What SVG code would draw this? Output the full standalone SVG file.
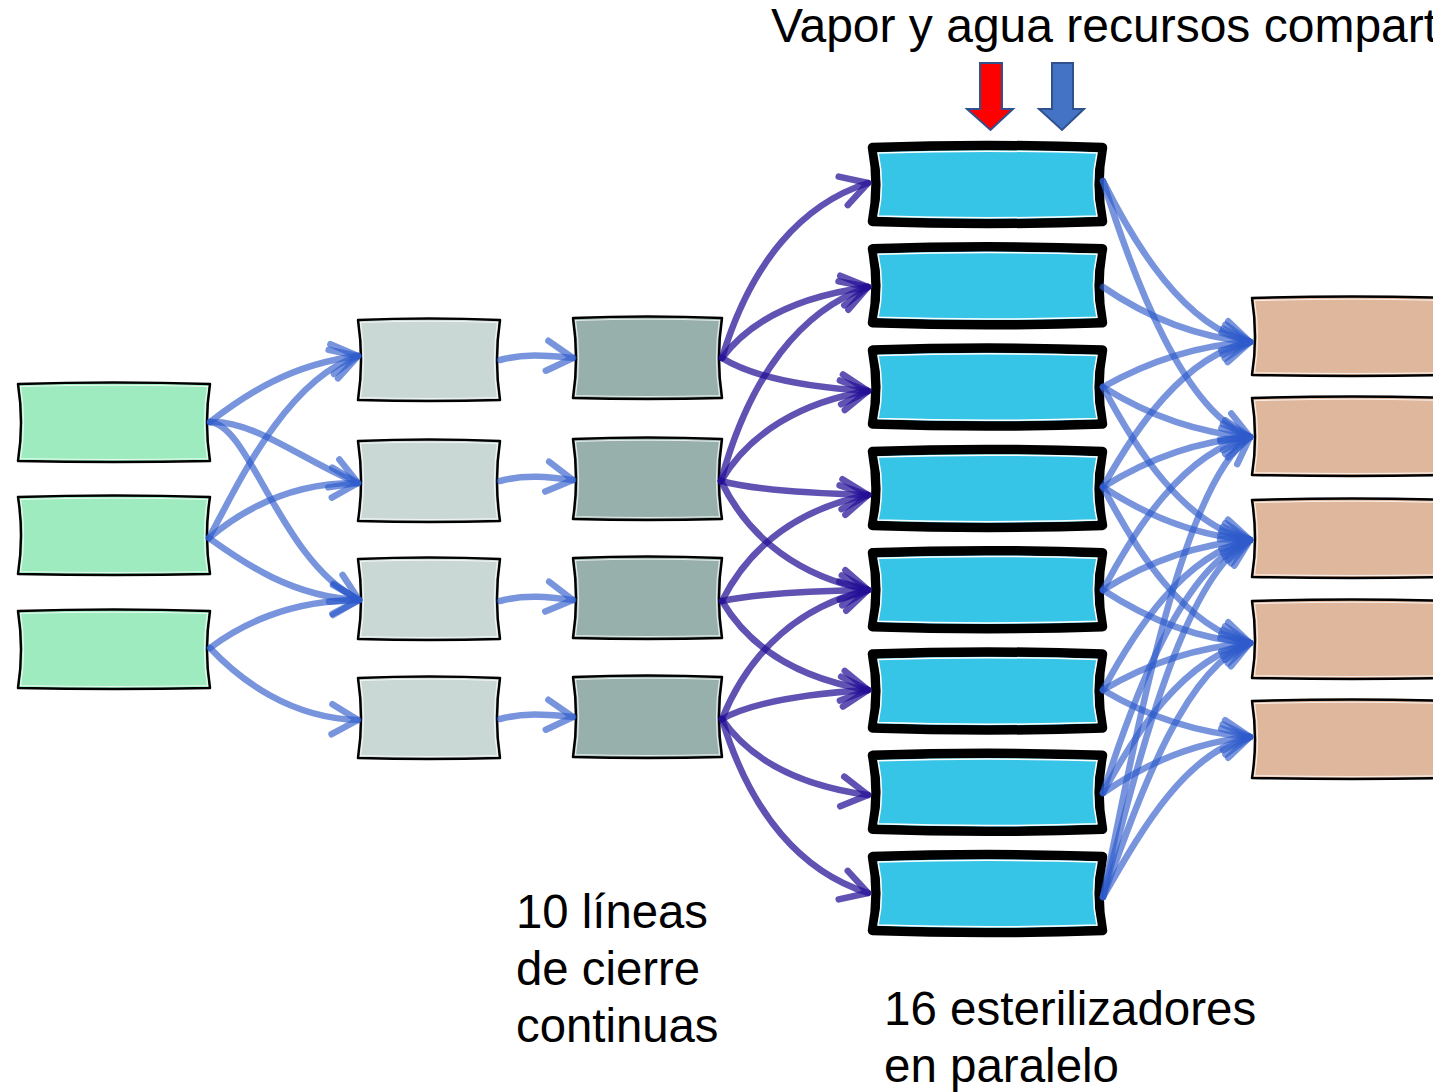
<svg xmlns="http://www.w3.org/2000/svg" width="1433" height="1092" viewBox="0 0 1433 1092">
<style>
.t{font-family:"Liberation Sans",Arial,sans-serif;fill:#000}
.bx{stroke:#000;stroke-width:2.5;stroke-linejoin:round}
.g{fill:#9EEBC0}
.lg{fill:#CAD8D5}
.dg{fill:#98B0AB}
.tan{fill:#DFB79C}
.hl{fill:none;stroke:#fff;stroke-width:1.2;opacity:0.75}
.bl{fill:#37C5E7;stroke:#000;stroke-width:9.5;stroke-linejoin:round}
.bhl{fill:none;stroke:#fff;stroke-width:1.5}
.cl{fill:none;stroke:#2E5BCB;stroke-opacity:0.65;stroke-width:6.5;stroke-linecap:round;marker-end:url(#ahL)}
.cd{fill:none;stroke:#230F96;stroke-opacity:0.72;stroke-width:6.5;stroke-linecap:round;marker-end:url(#ahD)}
</style>
<defs>
<marker id="ahL" markerUnits="userSpaceOnUse" markerWidth="40" markerHeight="40" viewBox="-30 -20 40 40" refX="0" refY="0" orient="auto" overflow="visible">
<path d="M-26,-15 L0,0 L-26,15" fill="none" stroke="#2E5BCB" stroke-opacity="0.65" stroke-width="6.5" stroke-linecap="round" stroke-linejoin="round"/>
</marker>
<marker id="ahD" markerUnits="userSpaceOnUse" markerWidth="40" markerHeight="40" viewBox="-30 -20 40 40" refX="0" refY="0" orient="auto" overflow="visible">
<path d="M-26,-15 L0,0 L-26,15" fill="none" stroke="#230F96" stroke-opacity="0.72" stroke-width="6.5" stroke-linecap="round" stroke-linejoin="round"/>
</marker>
</defs>
<rect width="1433" height="1092" fill="#fff"/>

<text class="t" x="771" y="42" font-size="48">Vapor y agua recursos compart</text>
<g id="arrow-vapor"><polygon points="980,63 1002,63 1002,109 1013,109 990.5,130 967,109 980,109" fill="#FF0000" stroke="#2F528F" stroke-width="2"/></g>
<g id="arrow-agua"><polygon points="1052,63 1073,63 1073,109 1084,109 1062,130 1039,109 1052,109" fill="#4472C4" stroke="#2F528F" stroke-width="2"/></g>

<g id="green-1" transform="translate(18,384)"><path class="bx g" d="M0,0 Q96,-3 192,0 Q186,38.5 192,77 Q96,79 0,77 Q6,38.5 0,0Z"/><path class="hl" d="M2.5,2.5 Q96,0 189.5,2.5 Q183.5,38.5 189.5,74.5 Q96,76.5 2.5,74.5 Q8.5,38.5 2.5,2.5Z"/></g>
<g id="green-2" transform="translate(18,497)"><path class="bx g" d="M0,0 Q96,-3 192,0 Q186,38.5 192,77 Q96,79 0,77 Q6,38.5 0,0Z"/><path class="hl" d="M2.5,2.5 Q96,0 189.5,2.5 Q183.5,38.5 189.5,74.5 Q96,76.5 2.5,74.5 Q8.5,38.5 2.5,2.5Z"/></g>
<g id="green-3" transform="translate(18,611)"><path class="bx g" d="M0,0 Q96,-3 192,0 Q186,38.5 192,77 Q96,79 0,77 Q6,38.5 0,0Z"/><path class="hl" d="M2.5,2.5 Q96,0 189.5,2.5 Q183.5,38.5 189.5,74.5 Q96,76.5 2.5,74.5 Q8.5,38.5 2.5,2.5Z"/></g>

<g id="lgray-1" transform="translate(358,320)"><path class="bx lg" d="M0,0 Q71,-3 142,0 Q136,40 142,80 Q71,82 0,80 Q6,40 0,0Z"/><path class="hl" d="M2.5,2.5 Q71,0 139.5,2.5 Q133.5,40 139.5,77.5 Q71,79.5 2.5,77.5 Q8.5,40 2.5,2.5Z"/></g>
<g id="lgray-2" transform="translate(358,441)"><path class="bx lg" d="M0,0 Q71,-3 142,0 Q136,40 142,80 Q71,82 0,80 Q6,40 0,0Z"/><path class="hl" d="M2.5,2.5 Q71,0 139.5,2.5 Q133.5,40 139.5,77.5 Q71,79.5 2.5,77.5 Q8.5,40 2.5,2.5Z"/></g>
<g id="lgray-3" transform="translate(358,559)"><path class="bx lg" d="M0,0 Q71,-3 142,0 Q136,40 142,80 Q71,82 0,80 Q6,40 0,0Z"/><path class="hl" d="M2.5,2.5 Q71,0 139.5,2.5 Q133.5,40 139.5,77.5 Q71,79.5 2.5,77.5 Q8.5,40 2.5,2.5Z"/></g>
<g id="lgray-4" transform="translate(358,678)"><path class="bx lg" d="M0,0 Q71,-3 142,0 Q136,40 142,80 Q71,82 0,80 Q6,40 0,0Z"/><path class="hl" d="M2.5,2.5 Q71,0 139.5,2.5 Q133.5,40 139.5,77.5 Q71,79.5 2.5,77.5 Q8.5,40 2.5,2.5Z"/></g>

<g id="dgray-1" transform="translate(573,318)"><path class="bx dg" d="M0,0 Q74.5,-3 149,0 Q143,40 149,80 Q74.5,82 0,80 Q6,40 0,0Z"/><path class="hl" d="M2.5,2.5 Q74.5,0 146.5,2.5 Q140.5,40 146.5,77.5 Q74.5,79.5 2.5,77.5 Q8.5,40 2.5,2.5Z"/></g>
<g id="dgray-2" transform="translate(573,439)"><path class="bx dg" d="M0,0 Q74.5,-3 149,0 Q143,40 149,80 Q74.5,82 0,80 Q6,40 0,0Z"/><path class="hl" d="M2.5,2.5 Q74.5,0 146.5,2.5 Q140.5,40 146.5,77.5 Q74.5,79.5 2.5,77.5 Q8.5,40 2.5,2.5Z"/></g>
<g id="dgray-3" transform="translate(573,558)"><path class="bx dg" d="M0,0 Q74.5,-3 149,0 Q143,40 149,80 Q74.5,82 0,80 Q6,40 0,0Z"/><path class="hl" d="M2.5,2.5 Q74.5,0 146.5,2.5 Q140.5,40 146.5,77.5 Q74.5,79.5 2.5,77.5 Q8.5,40 2.5,2.5Z"/></g>
<g id="dgray-4" transform="translate(573,677)"><path class="bx dg" d="M0,0 Q74.5,-3 149,0 Q143,40 149,80 Q74.5,82 0,80 Q6,40 0,0Z"/><path class="hl" d="M2.5,2.5 Q74.5,0 146.5,2.5 Q140.5,40 146.5,77.5 Q74.5,79.5 2.5,77.5 Q8.5,40 2.5,2.5Z"/></g>

<g id="steril-1" transform="translate(872.5,147.5)"><path class="bl" d="M0,0 Q115,-4 230,0 Q223,37 230,74 Q115,78 0,74 Q7,37 0,0Z"/><path class="bhl" d="M5.5,5.5 Q115,2 224.5,5.5 Q217.5,37 224.5,68.5 Q115,72 5.5,68.5 Q12.5,37 5.5,5.5Z"/></g>
<g id="steril-2" transform="translate(872.5,248.8)"><path class="bl" d="M0,0 Q115,-4 230,0 Q223,37 230,74 Q115,78 0,74 Q7,37 0,0Z"/><path class="bhl" d="M5.5,5.5 Q115,2 224.5,5.5 Q217.5,37 224.5,68.5 Q115,72 5.5,68.5 Q12.5,37 5.5,5.5Z"/></g>
<g id="steril-3" transform="translate(872.5,350.1)"><path class="bl" d="M0,0 Q115,-4 230,0 Q223,37 230,74 Q115,78 0,74 Q7,37 0,0Z"/><path class="bhl" d="M5.5,5.5 Q115,2 224.5,5.5 Q217.5,37 224.5,68.5 Q115,72 5.5,68.5 Q12.5,37 5.5,5.5Z"/></g>
<g id="steril-4" transform="translate(872.5,451.4)"><path class="bl" d="M0,0 Q115,-4 230,0 Q223,37 230,74 Q115,78 0,74 Q7,37 0,0Z"/><path class="bhl" d="M5.5,5.5 Q115,2 224.5,5.5 Q217.5,37 224.5,68.5 Q115,72 5.5,68.5 Q12.5,37 5.5,5.5Z"/></g>
<g id="steril-5" transform="translate(872.5,552.7)"><path class="bl" d="M0,0 Q115,-4 230,0 Q223,37 230,74 Q115,78 0,74 Q7,37 0,0Z"/><path class="bhl" d="M5.5,5.5 Q115,2 224.5,5.5 Q217.5,37 224.5,68.5 Q115,72 5.5,68.5 Q12.5,37 5.5,5.5Z"/></g>
<g id="steril-6" transform="translate(872.5,654)"><path class="bl" d="M0,0 Q115,-4 230,0 Q223,37 230,74 Q115,78 0,74 Q7,37 0,0Z"/><path class="bhl" d="M5.5,5.5 Q115,2 224.5,5.5 Q217.5,37 224.5,68.5 Q115,72 5.5,68.5 Q12.5,37 5.5,5.5Z"/></g>
<g id="steril-7" transform="translate(872.5,755.3)"><path class="bl" d="M0,0 Q115,-4 230,0 Q223,37 230,74 Q115,78 0,74 Q7,37 0,0Z"/><path class="bhl" d="M5.5,5.5 Q115,2 224.5,5.5 Q217.5,37 224.5,68.5 Q115,72 5.5,68.5 Q12.5,37 5.5,5.5Z"/></g>
<g id="steril-8" transform="translate(872.5,856.6)"><path class="bl" d="M0,0 Q115,-4 230,0 Q223,37 230,74 Q115,78 0,74 Q7,37 0,0Z"/><path class="bhl" d="M5.5,5.5 Q115,2 224.5,5.5 Q217.5,37 224.5,68.5 Q115,72 5.5,68.5 Q12.5,37 5.5,5.5Z"/></g>

<g id="tan-1" transform="translate(1252,298)"><path class="bx tan" d="M0,0 Q100,-3 200,0 L200,77 Q100,79 0,77 Q6,38.5 0,0Z"/><path class="hl" d="M2.5,2.5 Q100,0 200,2.5 M200,74.5 Q100,76.5 2.5,74.5 Q8.5,38.5 2.5,2.5"/></g>
<g id="tan-2" transform="translate(1252,398)"><path class="bx tan" d="M0,0 Q100,-3 200,0 L200,77 Q100,79 0,77 Q6,38.5 0,0Z"/><path class="hl" d="M2.5,2.5 Q100,0 200,2.5 M200,74.5 Q100,76.5 2.5,74.5 Q8.5,38.5 2.5,2.5"/></g>
<g id="tan-3" transform="translate(1252,500)"><path class="bx tan" d="M0,0 Q100,-3 200,0 L200,77 Q100,79 0,77 Q6,38.5 0,0Z"/><path class="hl" d="M2.5,2.5 Q100,0 200,2.5 M200,74.5 Q100,76.5 2.5,74.5 Q8.5,38.5 2.5,2.5"/></g>
<g id="tan-4" transform="translate(1252,601)"><path class="bx tan" d="M0,0 Q100,-3 200,0 L200,77 Q100,79 0,77 Q6,38.5 0,0Z"/><path class="hl" d="M2.5,2.5 Q100,0 200,2.5 M200,74.5 Q100,76.5 2.5,74.5 Q8.5,38.5 2.5,2.5"/></g>
<g id="tan-5" transform="translate(1252,701)"><path class="bx tan" d="M0,0 Q100,-3 200,0 L200,77 Q100,79 0,77 Q6,38.5 0,0Z"/><path class="hl" d="M2.5,2.5 Q100,0 200,2.5 M200,74.5 Q100,76.5 2.5,74.5 Q8.5,38.5 2.5,2.5"/></g>

<g id="connectors">
<path class="cl" d="M210,422 C245,395 291,364 358,356"/>
<path class="cl" d="M210,422 C255,420 305,462 358,483"/>
<path class="cl" d="M210,422 C250,425 280,560 359,600"/>
<path class="cl" d="M209,538 C235,490 285,380 358,356"/>
<path class="cl" d="M209,538 C240,512 290,482 358,483"/>
<path class="cl" d="M209,538 C240,560 290,597 359,600"/>
<path class="cl" d="M210,648 C240,625 290,600 359,600"/>
<path class="cl" d="M210,648 C240,680 290,718 358,720"/>

<path class="cl" d="M500,360 C525,353 550,356 573,358"/>
<path class="cl" d="M500,481 C525,474 550,477 573,480"/>
<path class="cl" d="M500,601 C525,594 550,597 573,600"/>
<path class="cl" d="M500,719 C525,712 550,715 573,717"/>

<path class="cd" d="M722,358 C751,262 802,204 868,183"/>
<path class="cd" d="M722,358 C751,319 802,296 868,287"/>
<path class="cd" d="M722,358 C751,376 802,387 868,391"/>
<path class="cd" d="M721,481 C750,374 802,310 868,287"/>
<path class="cd" d="M721,481 C750,432 802,402 868,391"/>
<path class="cd" d="M721,481 C750,489 802,493 868,495"/>
<path class="cd" d="M721,481 C750,541 802,577 868,590"/>
<path class="cd" d="M722,601 C751,543 802,508 868,495"/>
<path class="cd" d="M722,601 C751,595 802,591 868,590"/>
<path class="cd" d="M722,601 C751,650 802,679 868,690"/>
<path class="cd" d="M722,719 C751,648 802,606 868,590"/>
<path class="cd" d="M722,719 C751,703 802,694 868,690"/>
<path class="cd" d="M722,719 C751,761 802,786 868,795"/>
<path class="cd" d="M722,719 C751,815 802,872 868,893"/>

<path class="cl" d="M1103,181 C1135,245 1184,326 1250,342"/>
<path class="cl" d="M1103,181 C1135,283 1184,411 1250,437"/>
<path class="cl" d="M1103,287 C1135,309 1184,336 1250,342"/>
<path class="cl" d="M1103,387 C1135,369 1184,346 1250,342"/>
<path class="cl" d="M1103,387 C1135,407 1184,432 1250,437"/>
<path class="cl" d="M1103,387 C1135,448 1184,525 1250,540"/>
<path class="cl" d="M1103,487 C1135,429 1184,356 1250,342"/>
<path class="cl" d="M1103,487 C1135,467 1184,442 1250,437"/>
<path class="cl" d="M1103,487 C1135,508 1184,535 1250,540"/>
<path class="cl" d="M1103,487 C1135,549 1184,627 1250,643"/>
<path class="cl" d="M1103,590 C1135,529 1184,452 1250,437"/>
<path class="cl" d="M1103,590 C1135,570 1184,545 1250,540"/>
<path class="cl" d="M1103,590 C1135,611 1184,638 1250,643"/>
<path class="cl" d="M1103,690 C1135,630 1184,555 1250,540"/>
<path class="cl" d="M1103,690 C1135,671 1184,648 1250,643"/>
<path class="cl" d="M1103,690 C1135,709 1184,732 1250,737"/>
<path class="cl" d="M1103,793 C1135,692 1184,565 1250,540"/>
<path class="cl" d="M1103,793 C1135,733 1184,658 1250,643"/>
<path class="cl" d="M1103,793 C1135,771 1184,743 1250,737"/>
<path class="cl" d="M1103,897 C1140,713 1184,483 1250,437"/>
<path class="cl" d="M1103,897 C1140,754 1184,576 1250,540"/>
<path class="cl" d="M1103,897 C1140,795 1184,668 1250,643"/>
<path class="cl" d="M1103,897 C1140,833 1184,753 1250,737"/>
</g>

<text class="t" font-size="47.3"><tspan x="516" y="928">10 líneas</tspan><tspan x="516" y="985">de cierre</tspan><tspan x="516" y="1042">continuas</tspan></text>
<text class="t" font-size="47.5"><tspan x="884" y="1025">16 esterilizadores</tspan><tspan x="884" y="1082">en paralelo</tspan></text>
</svg>
